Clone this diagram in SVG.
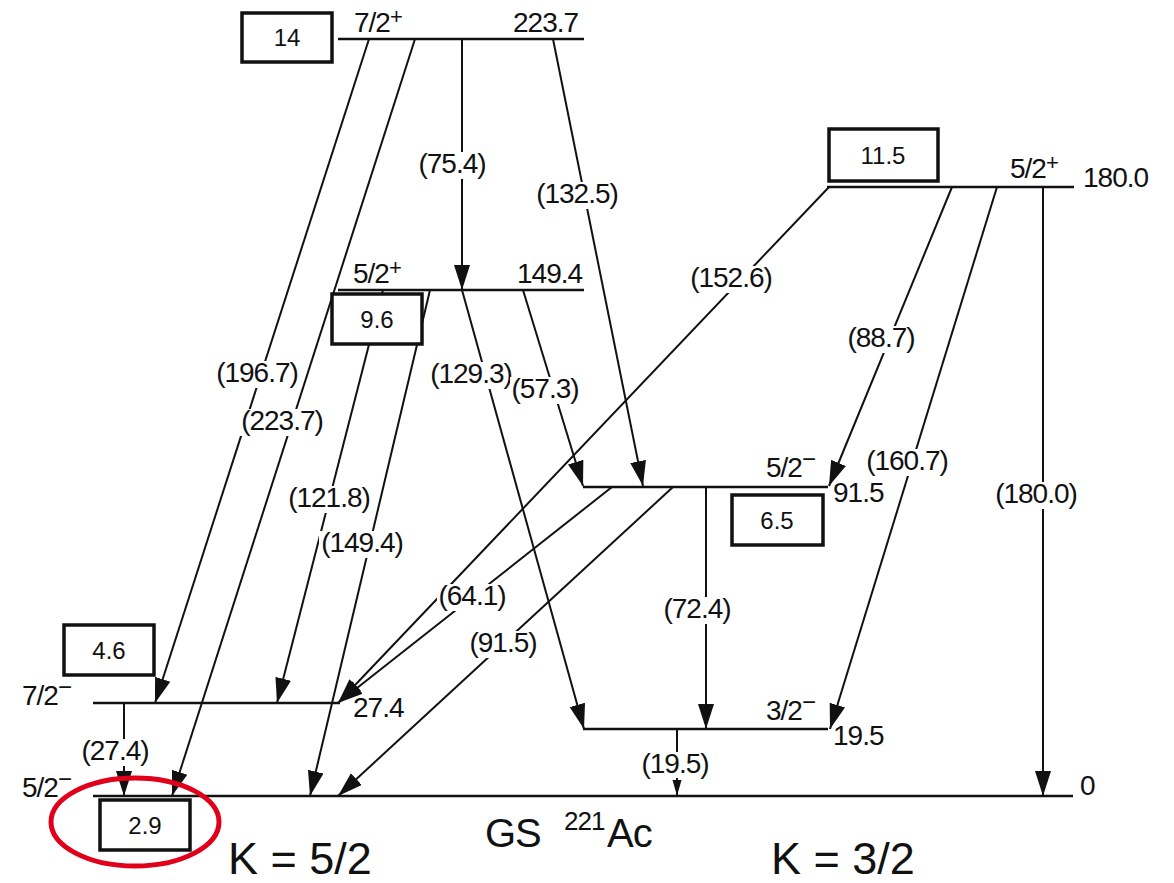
<svg xmlns="http://www.w3.org/2000/svg" width="1174" height="883" viewBox="0 0 1174 883">
<style>
text{font-family:"Liberation Sans",Arial,sans-serif;fill:#111}
.t{font-size:28px;letter-spacing:-1px}
.lbl{font-size:28px;letter-spacing:-1px;text-anchor:middle}
.sup{font-size:22px}
.bx{font-size:24px;text-anchor:middle}
.big{font-size:45px}
.tr{stroke:#111;stroke-width:2;fill:none;marker-end:url(#ah)}
.trs{stroke:#111;stroke-width:2;fill:none;marker-end:url(#ahs)}
.lev{stroke:#111;stroke-width:2.5}
.box{fill:#fff;stroke:#111;stroke-width:3.5}
.gap{fill:#fff}
</style>
<defs>
<marker id="ah" markerUnits="userSpaceOnUse" markerWidth="26" markerHeight="18" refX="25" refY="9" orient="auto">
<path d="M0,1 L25,9 L0,17 z" fill="#111"/>
</marker>
<marker id="ahs" markerUnits="userSpaceOnUse" markerWidth="17" markerHeight="10" refX="16" refY="5" orient="auto">
<path d="M0,0.5 L16,5 L0,9.5 z" fill="#111"/>
</marker>
</defs>
<rect width="1174" height="883" fill="#fff"/>

<g id="connectors">
<line class="tr" x1="369" y1="39" x2="155" y2="703"/>
<line class="tr" x1="415" y1="39" x2="172" y2="796"/>
<line class="tr" x1="462" y1="39" x2="462" y2="290"/>
<line class="tr" x1="553" y1="39" x2="643" y2="486"/>
<line class="tr" x1="383" y1="290" x2="277" y2="703"/>
<line class="tr" x1="430" y1="290" x2="310" y2="796"/>
<line class="tr" x1="462" y1="290" x2="584" y2="729"/>
<line class="tr" x1="523" y1="290" x2="583" y2="486"/>
<line class="tr" x1="829" y1="187" x2="338" y2="703"/>
<line class="tr" x1="952" y1="187" x2="829" y2="486"/>
<line class="tr" x1="997" y1="187" x2="830" y2="729"/>
<line class="tr" x1="1043" y1="187" x2="1043" y2="796"/>
<line class="tr" x1="612" y1="487" x2="338" y2="703"/>
<line class="tr" x1="673" y1="487" x2="338" y2="796"/>
<line class="tr" x1="706" y1="487" x2="706" y2="729"/>
<line class="tr" x1="124" y1="703" x2="124" y2="796"/>
<line class="trs" x1="677" y1="729" x2="677" y2="796"/>
</g>

<g id="transition-labels">
<rect class="gap" x="214" y="361" width="86" height="27"/><text class="lbl" x="257" y="382">(196.7)</text>
<rect class="gap" x="239" y="409" width="86" height="27"/><text class="lbl" x="282" y="430">(223.7)</text>
<rect class="gap" x="417" y="152" width="70" height="27"/><text class="lbl" x="452" y="173">(75.4)</text>
<rect class="gap" x="534" y="182" width="86" height="27"/><text class="lbl" x="577" y="203">(132.5)</text>
<rect class="gap" x="286" y="486" width="86" height="27"/><text class="lbl" x="329" y="507">(121.8)</text>
<rect class="gap" x="319" y="531" width="86" height="27"/><text class="lbl" x="362" y="552">(149.4)</text>
<rect class="gap" x="428" y="362" width="86" height="27"/><text class="lbl" x="471" y="383">(129.3)</text>
<rect class="gap" x="510" y="377" width="70" height="27"/><text class="lbl" x="545" y="398">(57.3)</text>
<rect class="gap" x="688" y="266" width="86" height="27"/><text class="lbl" x="731" y="287">(152.6)</text>
<rect class="gap" x="846" y="326" width="70" height="27"/><text class="lbl" x="881" y="347">(88.7)</text>
<rect class="gap" x="864" y="449" width="86" height="27"/><text class="lbl" x="907" y="470">(160.7)</text>
<rect class="gap" x="993" y="482" width="86" height="27"/><text class="lbl" x="1036" y="503">(180.0)</text>
<rect class="gap" x="437" y="584" width="70" height="27"/><text class="lbl" x="472" y="605">(64.1)</text>
<rect class="gap" x="468" y="631" width="70" height="27"/><text class="lbl" x="503" y="652">(91.5)</text>
<rect class="gap" x="662" y="597" width="70" height="27"/><text class="lbl" x="697" y="618">(72.4)</text>
<rect class="gap" x="80" y="739" width="70" height="27"/><text class="lbl" x="115" y="760">(27.4)</text>
<rect class="gap" x="640" y="752" width="70" height="26"/><text class="lbl" x="675" y="773">(19.5)</text>
</g>

<g id="level-223">
<line class="lev" x1="338" y1="39" x2="584" y2="39"/>
<text class="t" x="354" y="32">7/2<tspan class="sup" dy="-8">+</tspan></text>
<text class="t" x="513" y="32">223.7</text>
</g>
<g id="level-149">
<line class="lev" x1="338" y1="290" x2="584" y2="290"/>
<text class="t" x="353" y="283">5/2<tspan class="sup" dy="-8">+</tspan></text>
<text class="t" x="517" y="283">149.4</text>
</g>
<g id="level-180">
<line class="lev" x1="827" y1="187" x2="1074" y2="187"/>
<text class="t" x="1010" y="178">5/2<tspan class="sup" dy="-8">+</tspan></text>
<text class="t" x="1083" y="187">180.0</text>
</g>
<g id="level-91">
<line class="lev" x1="583" y1="487" x2="828" y2="487"/>
<text class="t" x="766" y="477">5/2<tspan font-size="24" dy="-10">−</tspan></text>
<text class="t" x="833" y="502">91.5</text>
</g>
<g id="level-27">
<line class="lev" x1="93" y1="703" x2="340" y2="703"/>
<text class="t" x="22" y="705">7/2<tspan font-size="24" dy="-10">−</tspan></text>
<text class="t" x="353" y="717">27.4</text>
</g>
<g id="level-19">
<line class="lev" x1="583" y1="729" x2="828" y2="729"/>
<text class="t" x="766" y="720">3/2<tspan font-size="24" dy="-10">−</tspan></text>
<text class="t" x="833" y="745">19.5</text>
</g>
<g id="level-0">
<line class="lev" x1="93" y1="796" x2="1073" y2="796"/>
<text class="t" x="22" y="797">5/2<tspan font-size="24" dy="-10">−</tspan></text>
<text class="t" x="1080" y="795">0</text>
</g>

<g id="box-14"><rect class="box" x="242" y="13" width="90" height="49"/><text class="bx" x="287" y="46">14</text></g>
<g id="box-9.6"><rect class="box" x="332" y="294" width="90" height="50"/><text class="bx" x="377" y="328">9.6</text></g>
<g id="box-11.5"><rect class="box" x="829" y="129" width="109" height="52"/><text class="bx" x="883" y="164">11.5</text></g>
<g id="box-6.5"><rect class="box" x="732" y="495" width="91" height="50"/><text class="bx" x="777" y="529">6.5</text></g>
<g id="box-4.6"><rect class="box" x="64" y="625" width="90" height="50"/><text class="bx" x="109" y="659">4.6</text></g>
<g id="box-2.9"><rect class="box" x="100" y="800" width="90" height="50"/><text class="bx" x="145" y="834">2.9</text></g>

<g id="captions">
<text font-size="40" x="485" y="847" letter-spacing="-1">GS<tspan x="564" dy="-17" font-size="26">221</tspan><tspan x="607" dy="17">Ac</tspan></text>
<text class="big" x="228" y="874">K = 5/2</text>
<text class="big" x="771" y="874">K = 3/2</text>
</g>

<ellipse id="highlight" cx="135" cy="822" rx="84" ry="44" fill="none" stroke="#e0001a" stroke-width="5"/>
</svg>
